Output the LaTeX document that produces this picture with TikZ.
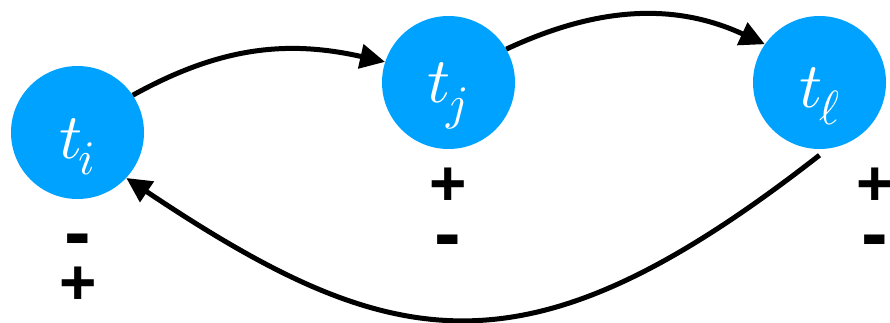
\RequirePackage{fix-cm}
\documentclass[tikz,border=0pt]{standalone}
\usepackage{fontspec}
\newfontfamily\signfont{Liberation Sans}
\DeclareFontShape{OML}{cmm}{m}{it}{<->cmmi10}{\skewchar\font'177}
\usetikzlibrary{arrows.meta,calc}
\definecolor{nodeblue}{RGB}{0,162,255}
\newcommand\tsubscr[1]{$t$\kern-4pt\raisebox{-17pt}{\fontsize{48}{48}\selectfont$#1$}}
\begin{document}
\begin{tikzpicture}[x=1pt,y=-1pt,
  state/.style={circle, fill=nodeblue, minimum size=133pt, inner sep=0pt,
    text=white, font=\fontsize{64}{64}\selectfont, text depth=0pt},
  link/.style={line width=5pt, -{Triangle[length=25pt,width=24pt]}},
  plussign/.style={font=\signfont\bfseries\fontsize{64}{64}\selectfont,
    inner sep=0pt, text height=45pt, text depth=0pt},
  minussign/.style={font=\signfont\bfseries\fontsize{80}{80}\selectfont,
    inner sep=0pt, text height=45pt, text depth=0pt}
]
\useasboundingbox (0,0) rectangle (890,323);
\node[state, text height=51pt] (ti) at (77.5,132.5) {\tsubscr{i}};
\node[state, text height=40pt] (tj) at (448.5,82.5) {\tsubscr{j}};
\node[state, text height=50pt] (tl) at (819.5,82.5) {\tsubscr{\ell}};
\coordinate (tlout) at ($(tl.south)+(0,6)$);
\draw[link] (ti.34) .. controls +(87.5,-48.5) and +(-97.5,-22) .. (tj.162);
\draw[link] (tj.30) .. controls +(90.6,-42.3) and +(-90.7,-42) .. (tl.145);
\draw[link] (tlout) .. controls +(-291,227) and +(269,180) .. (ti.-43);
\node[minussign] (mi) at (78,237) {-};
\node[plussign] (pi) at (78,282) {+};
\node[plussign] (pj) at (448,183) {+};
\node[minussign] (mj) at (448,238) {-};
\node[plussign] (pl) at (875,183) {+};
\node[minussign] (ml) at (875,238) {-};
\end{tikzpicture}
\end{document}
